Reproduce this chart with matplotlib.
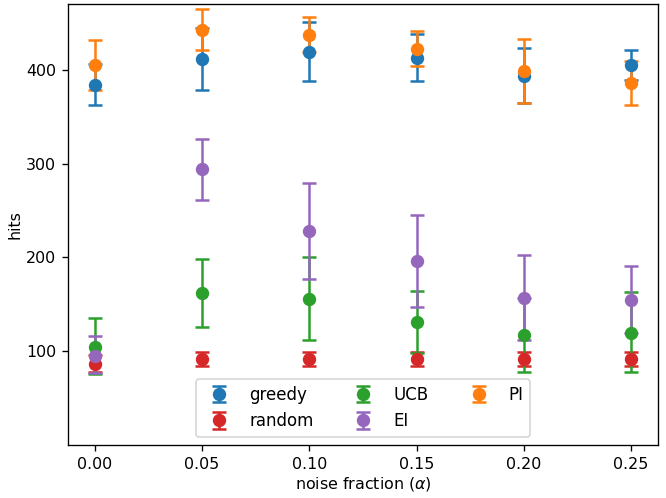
import numpy as np
import matplotlib
matplotlib.use("Agg")
import matplotlib.pyplot as plt

noise = [0.00, 0.05, 0.10, 0.15, 0.20, 0.25]

greedy = [384, 411, 419, 412, 393, 405]
greedy_lo = [362, 378, 388, 388, 364, 389]
greedy_hi = [406, 444, 451, 438, 423, 421]

random_ = [87, 91.5, 91.5, 91.5, 91.5, 91.5]
random_lo = [78, 84, 84, 84, 84, 84]
random_hi = [96, 99.5, 99.5, 99.5, 99.5, 99.5]

ucb = [105, 162, 156, 131, 117, 120]
ucb_lo = [75.5, 126, 112, 98.5, 77.5, 77.5]
ucb_hi = [135, 198, 200, 164, 157, 163.5]

ei = [95.5, 294, 228, 196, 157, 155]
ei_lo = [76.5, 261, 177, 147, 112, 119]
ei_hi = [116, 326, 279, 245, 203, 191]

pi = [404.5, 442.5, 437, 422, 399, 386]
pi_lo = [378, 420.5, 419, 403.5, 364, 362]
pi_hi = [432, 464.5, 456, 441.5, 433, 409]

series = [
    ("greedy", greedy, greedy_lo, greedy_hi, "tab:blue"),
    ("random", random_, random_lo, random_hi, "tab:red"),
    ("UCB", ucb, ucb_lo, ucb_hi, "tab:green"),
    ("EI", ei, ei_lo, ei_hi, "tab:purple"),
    ("PI", pi, pi_lo, pi_hi, "tab:orange"),
]

dpi = 120
fig, ax = plt.subplots(figsize=(666 / dpi, 498 / dpi), dpi=dpi)
for label, y, lo, hi, color in series:
    y = np.array(y)
    err = [y - np.array(lo), np.array(hi) - y]
    ax.errorbar(noise, y, yerr=err, fmt="o", ms=7, capsize=4, elinewidth=1.5,
                capthick=1.5, color=color, label=label)

ax.set_ylim(0, 470)
ax.set_yticks([100, 200, 300, 400])
ax.set_xticks(noise)
ax.set_xticklabels(["0.00", "0.05", "0.10", "0.15", "0.20", "0.25"])
ax.tick_params(labelsize=9.5)
ax.set_xlabel(r"noise fraction ($\alpha$)", fontsize=9.5, labelpad=2)
ax.set_ylabel("hits", fontsize=9.5, labelpad=2)
ax.legend(loc="lower center", ncol=3)
fig.subplots_adjust(left=0.102, right=0.988, top=0.992, bottom=0.106)
fig.savefig("out.png", dpi=dpi)
